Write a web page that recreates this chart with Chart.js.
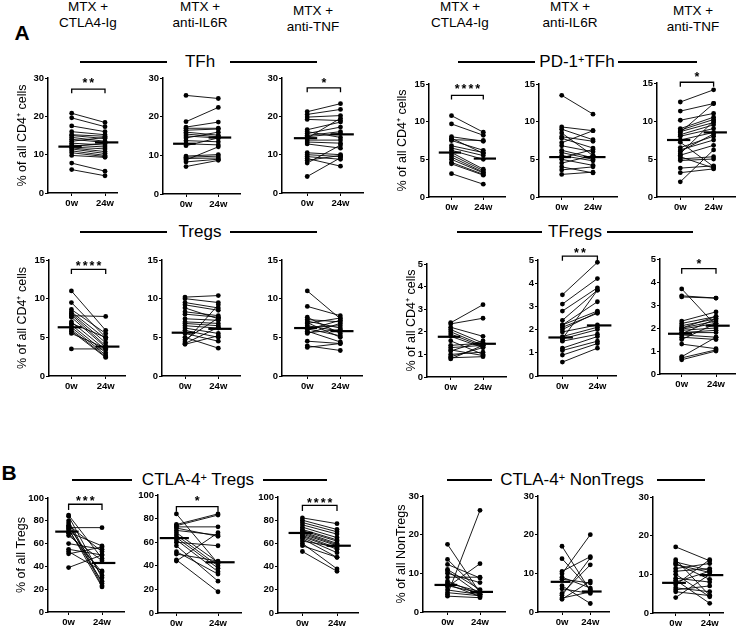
<!DOCTYPE html>
<html>
<head>
<meta charset="utf-8">
<script src="https://cdn.jsdelivr.net/npm/chart.js@4.4.1/dist/chart.umd.min.js"></script>
<style>
  body { margin: 0; background: #fff; width: 740px; height: 629px; position: relative; overflow: hidden;
         font-family: "Liberation Sans", Arial, sans-serif; color: #000; }
  .t { position: absolute; transform: translate(-50%, -50%); white-space: nowrap; text-align: center; }
  .hd { font-size: 13.5px; line-height: 16px; }
  .gt { font-size: 17px; }
  .gt sup { font-size: 11px; line-height: 0; vertical-align: 0.35em; }
  .lt { font-size: 21px; font-weight: bold; }
  .rule { position: absolute; height: 2px; background: #000; }
  canvas { position: absolute; }
</style>
</head>
<body>
<script>
// ---- labels ----
const weeks = ['0w', '24w'];
const treatments = [['MTX +', 'CTLA4-Ig'], ['MTX +', 'anti-IL6R'], ['MTX +', 'anti-TNF']];
const cd4Title = '% of all CD4\u207A cells';

// ---- TFh (% of CD4) ----
const tfhCtla0 = [20.8, 19.6, 17.5, 16.0, 15.2, 15.0, 14.5, 14.0, 13.5, 13.0, 12.5, 12.2, 12.0, 11.8, 11.5, 11.0, 10.5, 9.8, 7.8, 6.1];
const tfhCtla24 = [18.4, 17.3, 16.0, 15.2, 14.8, 14.2, 13.5, 13.2, 14.5, 12.5, 12.0, 13.0, 11.5, 10.8, 10.3, 9.8, 9.5, 9.3, 5.7, 4.5];
const tfhCtlaMed = [12.1, 13.2];
const tfhIl6r0 = [25.5, 18.7, 17.3, 17.0, 16.5, 16.0, 15.5, 15.0, 14.5, 13.8, 13.0, 12.5, 9.8, 9.5, 9.2, 8.8, 8.3, 7.1];
const tfhIl6r24 = [24.7, 22.4, 18.6, 17.0, 16.8, 15.2, 14.8, 14.5, 16.0, 13.5, 12.7, 14.5, 10.2, 9.8, 9.3, 12.2, 9.0, 8.7];
const tfhIl6rMed = [13.0, 14.6];
const tfhTnf0 = [21.2, 20.5, 19.8, 19.2, 16.5, 16.0, 15.5, 15.0, 14.7, 14.3, 13.8, 13.3, 12.8, 10.5, 10.0, 9.5, 9.0, 8.5, 7.8, 4.3];
const tfhTnf24 = [23.3, 21.8, 20.2, 18.9, 18.5, 14.5, 17.2, 16.0, 15.5, 19.5, 13.8, 13.0, 11.7, 10.0, 9.5, 8.8, 7.0, 9.8, 12.5, 9.2];
const tfhTnfMed = [14.3, 15.3];

// ---- PD-1+ TFh ----
const pd1Ctla0 = [10.8, 9.7, 8.0, 7.8, 7.6, 7.5, 6.8, 6.5, 6.2, 5.9, 5.6, 5.3, 5.0, 4.6, 4.4, 3.1];
const pd1Ctla24 = [8.6, 8.2, 7.4, 5.8, 7.5, 6.2, 5.9, 5.5, 5.0, 3.7, 3.5, 3.3, 3.2, 3.0, 2.9, 1.7];
const pd1CtlaMed = [5.9, 5.1];
const pd1Il6r0 = [13.5, 9.3, 9.0, 8.5, 8.0, 7.8, 7.2, 6.8, 6.2, 5.9, 5.5, 5.2, 5.0, 4.5, 4.0, 3.6, 3.0];
const pd1Il6r24 = [11.0, 8.8, 7.6, 5.5, 7.4, 6.5, 8.8, 6.0, 5.2, 5.0, 4.8, 6.3, 4.2, 5.5, 3.2, 4.0, 3.3];
const pd1Il6rMed = [5.3, 5.3];
const pd1Tnf0 = [12.5, 11.3, 10.1, 9.0, 8.8, 8.6, 8.2, 8.0, 7.5, 6.5, 6.2, 5.5, 5.3, 5.0, 4.8, 3.8, 3.2, 2.0, 8.5, 7.2, 6.0, 5.7];
const pd1Tnf24 = [14.1, 12.3, 11.0, 10.5, 10.2, 9.8, 9.5, 9.0, 8.5, 8.0, 7.5, 6.8, 3.8, 5.3, 5.0, 4.1, 3.7, 6.2, 12.3, 4.0, 8.3, 10.0];
const pd1TnfMed = [7.5, 8.5];

// ---- Tregs ----
const tregCtla0 = [11.0, 9.5, 8.6, 8.3, 8.1, 7.9, 7.8, 7.6, 7.0, 6.8, 6.6, 6.3, 6.0, 5.8, 5.5, 3.5];
const tregCtla24 = [5.9, 5.0, 5.5, 4.8, 4.3, 3.9, 7.7, 3.7, 3.4, 5.0, 3.0, 2.7, 2.5, 2.4, 3.6, 3.5];
const tregCtlaMed = [6.3, 3.8];
const tregIl6r0 = [10.2, 10.0, 9.5, 9.2, 8.8, 8.3, 8.0, 7.4, 7.0, 6.8, 6.5, 6.2, 5.9, 5.5, 5.0, 4.7, 4.4, 4.1, 4.2];
const tregIl6r24 = [10.4, 9.5, 8.8, 8.5, 7.4, 7.8, 7.6, 7.2, 6.8, 6.5, 6.2, 5.5, 5.0, 4.5, 3.6, 7.5, 9.2, 5.2, 6.3];
const tregIl6rMed = [5.6, 6.1];
const tregTnf0 = [11.0, 9.0, 7.6, 7.3, 7.1, 6.8, 6.5, 6.3, 6.1, 5.8, 5.5, 4.5, 3.9, 3.7, 6.9, 6.0, 5.6];
const tregTnf24 = [7.4, 7.8, 5.5, 7.0, 6.2, 7.5, 5.8, 6.5, 5.2, 4.4, 6.8, 4.2, 3.3, 4.2, 5.0, 7.2, 6.0];
const tregTnfMed = [6.2, 5.8];

// ---- TFregs ----
const tfrCtla0 = [2.4, 2.35, 2.2, 2.1, 2.0, 1.9, 1.8, 1.6, 1.4, 1.3, 1.2, 1.15, 1.0, 0.9, 0.85, 0.8];
const tfrCtla24 = [3.2, 2.6, 1.8, 1.5, 1.4, 1.35, 1.3, 1.0, 1.5, 1.4, 0.95, 1.6, 1.1, 1.3, 0.9, 1.4];
const tfrCtlaMed = [1.78, 1.47];
const tfrIl6r0 = [3.5, 3.1, 2.8, 2.4, 2.2, 2.2, 2.0, 1.9, 1.7, 1.6, 1.5, 1.2, 1.1, 0.9, 0.6, 1.6, 2.1];
const tfrIl6r24 = [4.9, 4.2, 3.8, 3.7, 3.2, 2.8, 2.75, 2.2, 2.1, 2.0, 1.8, 1.7, 1.5, 1.4, 1.2, 3.7, 2.7];
const tfrIl6rMed = [1.66, 2.18];
const tfrTnf0 = [3.7, 3.4, 3.35, 2.3, 2.2, 2.1, 2.0, 1.95, 1.9, 1.8, 1.75, 1.7, 1.6, 1.5, 1.3, 0.75, 0.7, 0.62, 2.0, 1.8];
const tfrTnf24 = [2.1, 3.3, 3.3, 2.7, 2.5, 2.4, 2.3, 2.2, 2.0, 1.8, 2.4, 1.6, 1.5, 2.2, 1.1, 1.6, 1.05, 1.0, 2.5, 1.9];
const tfrTnfMed = [1.75, 2.1];

// ---- CTLA-4+ Tregs (% of Tregs) ----
const ctTregCtla0 = [85, 84, 80, 78, 76, 75, 73, 72, 70, 69, 67, 60, 55, 53, 51, 39, 74];
const ctTregCtla24 = [47, 30, 25, 23, 53, 32, 22, 27, 58, 35, 45, 55, 50, 36, 57, 50, 74];
const ctTregCtlaMed = [70.5, 43];
const ctTregIl6r0 = [84, 75, 74, 73, 70, 68, 66, 64, 62, 60, 57, 52, 50, 45, 44, 72];
const ctTregIl6r24 = [42, 84, 83, 73, 66, 43, 40, 38, 35, 57, 27, 33, 44, 18, 68, 65];
const ctTregIl6rMed = [63.5, 43];
const ctTregTnf0 = [82, 80, 78, 76, 74, 72, 71, 70, 69, 68, 67, 66, 65, 64, 62, 60, 58, 53];
const ctTregTnf24 = [77, 72, 70, 68, 65, 63, 62, 60, 59, 58, 56, 55, 52, 48, 57, 38, 48, 36];
const ctTregTnfMed = [69, 58];

// ---- CTLA-4+ NonTregs (% of NonTregs) ----
const ctNonCtla0 = [17.5, 13.6, 12.3, 10.6, 10.0, 9.0, 8.0, 7.5, 7.2, 6.5, 5.7, 5.0, 4.1, 6.8, 4.5, 11.0];
const ctNonCtla24 = [5.0, 5.3, 8.8, 4.6, 7.6, 9.0, 4.5, 5.3, 4.0, 12.5, 4.5, 4.2, 3.7, 5.0, 26.3, 5.8];
const ctNonCtlaMed = [7.0, 5.2];
const ctNonIl6r0 = [17.0, 13.8, 10.5, 9.9, 9.0, 8.5, 6.8, 6.0, 4.8, 4.3, 3.6, 3.3];
const ctNonIl6r24 = [5.5, 5.8, 14.3, 20.0, 6.2, 7.5, 2.2, 4.8, 12.2, 14.0, 5.2, 8.0];
const ctNonIl6rMed = [7.8, 5.3];
const ctNonTnf0 = [17.1, 13.8, 13.2, 12.5, 11.5, 10.8, 10.0, 9.0, 8.0, 7.3, 6.5, 6.0, 5.5, 4.0, 8.5, 12.8];
const ctNonTnf24 = [13.5, 4.5, 11.0, 10.5, 12.8, 11.5, 4.2, 8.0, 10.8, 13.8, 5.5, 7.0, 4.5, 10.0, 2.5, 8.7];
const ctNonTnfMed = [7.8, 9.8];

// panel placement: ax = y-axis x, yT/yB = pixel of max/0, x0/x1 = 0w/24w, xE = end of x axis
const panels = [
  { pre: tfhCtla0, post: tfhCtla24, med: tfhCtlaMed, yMax: 30, step: 10, ax: 48, yT: 78, yB: 193, x0: 71.7, x1: 105, xE: 117,
    yTitle: cd4Title, titleX: 23, sig: { y: 27.1, drop: 1.1, text: '**', ty: 29.4 } },
  { pre: tfhIl6r0, post: tfhIl6r24, med: tfhIl6rMed, yMax: 30, step: 10, ax: 163, yT: 78, yB: 194, x0: 186, x1: 218.3, xE: 240 },
  { pre: tfhTnf0, post: tfhTnf24, med: tfhTnfMed, yMax: 30, step: 10, ax: 281.5, yT: 78, yB: 193, x0: 306.7, x1: 340, xE: 362,
    sig: { y: 27.4, drop: 1.1, text: '*', ty: 29.5 } },
  { pre: pd1Ctla0, post: pd1Ctla24, med: pd1CtlaMed, yMax: 15, step: 5, ax: 429, yT: 84, yB: 197, x0: 451.5, x1: 483.3, xE: 505,
    yTitle: cd4Title, titleX: 403, sig: { y: 13.5, drop: 0.55, text: '****', ty: 14.7 } },
  { pre: pd1Il6r0, post: pd1Il6r24, med: pd1Il6rMed, yMax: 15, step: 5, ax: 539, yT: 84, yB: 197, x0: 561.7, x1: 593, xE: 617 },
  { pre: pd1Tnf0, post: pd1Tnf24, med: pd1TnfMed, yMax: 15, step: 5, ax: 656.7, yT: 83, yB: 197, x0: 680, x1: 713.3, xE: 735,
    sig: { y: 15.1, drop: 0.6, text: '*', ty: 16.2 } },
  { pre: tregCtla0, post: tregCtla24, med: tregCtlaMed, yMax: 15, step: 5, ax: 49.3, yT: 260, yB: 376, x0: 71.7, x1: 106, xE: 125,
    yTitle: cd4Title, titleX: 23, sig: { y: 13.8, drop: 0.6, text: '****', ty: 14.65 } },
  { pre: tregIl6r0, post: tregIl6r24, med: tregIl6rMed, yMax: 15, step: 5, ax: 162, yT: 260, yB: 376, x0: 185, x1: 218.3, xE: 240 },
  { pre: tregTnf0, post: tregTnf24, med: tregTnfMed, yMax: 15, step: 5, ax: 281.7, yT: 260, yB: 376, x0: 307, x1: 340, xE: 361.7 },
  { pre: tfrCtla0, post: tfrCtla24, med: tfrCtlaMed, yMax: 5, step: 1, ax: 427.3, yT: 264, yB: 377, x0: 451, x1: 483.3, xE: 506.7,
    yTitle: cd4Title, titleX: 411.7 },
  { pre: tfrIl6r0, post: tfrIl6r24, med: tfrIl6rMed, yMax: 5, step: 1, ax: 538.3, yT: 260, yB: 376, x0: 562.7, x1: 597.7, xE: 616.7,
    sig: { y: 5.17, drop: 0.2, text: '**', ty: 5.43 } },
  { pre: tfrTnf0, post: tfrTnf24, med: tfrTnfMed, yMax: 5, step: 1, ax: 660, yT: 259, yB: 374, x0: 681.7, x1: 716, xE: 735,
    sig: { y: 4.58, drop: 0.22, text: '*', ty: 4.9 } },
  { pre: ctTregCtla0, post: ctTregCtla24, med: ctTregCtlaMed, yMax: 100, step: 20, ax: 47.7, yT: 498, yB: 612, x0: 68.3, x1: 101.7, xE: 123.3,
    yTitle: '% of all Tregs', titleX: 21.7, sig: { y: 94.5, drop: 5, text: '***', ty: 100.4 } },
  { pre: ctTregIl6r0, post: ctTregIl6r24, med: ctTregIl6rMed, yMax: 100, step: 20, ax: 158.3, yT: 495, yB: 613, x0: 176.7, x1: 218.3, xE: 241.7,
    sig: { y: 90.1, drop: 4.2, text: '*', ty: 97.2 } },
  { pre: ctTregTnf0, post: ctTregTnf24, med: ctTregTnfMed, yMax: 100, step: 20, ax: 278.3, yT: 497, yB: 613, x0: 302.7, x1: 337.3, xE: 358.3,
    sig: { y: 92.8, drop: 4.9, text: '****', ty: 97.7 } },
  { pre: ctNonCtla0, post: ctNonCtla24, med: ctNonCtlaMed, yMax: 30, step: 10, ax: 423, yT: 496, yB: 612, x0: 447.5, x1: 480, xE: 505,
    yTitle: '% of all NonTregs', titleX: 402 },
  { pre: ctNonIl6r0, post: ctNonIl6r24, med: ctNonIl6rMed, yMax: 30, step: 10, ax: 537.7, yT: 496, yB: 612, x0: 561.7, x1: 590, xE: 608.3 },
  { pre: ctNonTnf0, post: ctNonTnf24, med: ctNonTnfMed, yMax: 30, step: 10, ax: 653.3, yT: 497, yB: 613, x0: 676, x1: 710, xE: 723.3 }
];

// ---- html text (headers, group titles) ----
function addText(html, x, y, cls) {
  const d = document.createElement('div');
  d.className = 't ' + cls;
  d.style.left = x + 'px';
  d.style.top = y + 'px';
  d.innerHTML = html;
  document.body.appendChild(d);
}
function addRule(x1, x2, y) {
  const d = document.createElement('div');
  d.className = 'rule';
  d.style.left = x1 + 'px';
  d.style.top = (y - 1) + 'px';
  d.style.width = (x2 - x1) + 'px';
  document.body.appendChild(d);
}

[[88, 15], [200, 15], [313, 19], [460, 15], [570, 15], [693, 19]].forEach(([x, y], i) => {
  addText(treatments[i % 3].join('<br>'), x, y, 'hd');
});
addText('A', 22, 33, 'lt');
addText('B', 9, 473, 'lt');

const groups = [
  { text: 'TFh', x: 200, y: 62, rules: [[80, 167], [230, 317]] },
  { text: 'PD-1<sup>+</sup>TFh', x: 577, y: 62, rules: [[458, 535], [618, 697]] },
  { text: 'Tregs', x: 200, y: 232, rules: [[80, 167], [230, 317]] },
  { text: 'TFregs', x: 575, y: 232, rules: [[457, 542], [607, 693]] },
  { text: 'CTLA-4<sup>+</sup> Tregs', x: 198, y: 480, rules: [[72, 132], [263, 327]] },
  { text: 'CTLA-4<sup>+</sup> NonTregs', x: 572, y: 480, rules: [[447, 492], [657, 705]] }
];
groups.forEach(g => {
  addText(g.text, g.x, g.y, 'gt');
  g.rules.forEach(r => addRule(r[0], r[1], g.y));
});

// ---- charts ----
const FONT = '"Liberation Sans", Arial, sans-serif';

// significance stars above the bracket
const starPlugin = {
  id: 'stars',
  afterDatasetsDraw(chart, args, opts) {
    const s = opts.sig;
    if (!s) return;
    const { ctx, scales: { x, y } } = chart;
    ctx.save();
    ctx.font = 'bold 12.5px ' + FONT;
    ctx.letterSpacing = '2px';
    ctx.textAlign = 'center';
    ctx.textBaseline = 'alphabetic';
    ctx.fillStyle = '#000';
    ctx.fillText(s.text, x.getPixelForValue(0.5) + 1, y.getPixelForValue(s.ty) + 7);
    ctx.restore();
  }
};

function pairPoints(pre, post) {
  const pts = [];
  pre.forEach((v, i) => {
    pts.push({ x: 0, y: v }, { x: 1, y: post[i] }, { x: 0.5, y: null });
  });
  return pts;
}

function makePanel(p) {
  const W = 44, PT = 28, PR = 6, HB = 22;
  const ax = Math.round(p.ax), yT = Math.round(p.yT), yB = Math.round(p.yB);
  const plotW = Math.round(p.xE - p.ax);
  const canvas = document.createElement('canvas');
  canvas.width = W + plotW + PR;
  canvas.height = PT + (yB - yT) + HB;
  canvas.style.left = (ax - W) + 'px';
  canvas.style.top = (yT - PT) + 'px';
  document.body.appendChild(canvas);

  const unit = p.x1 - p.x0;
  const xMin = -(p.x0 - p.ax) / unit;
  const xMax = xMin + plotW / unit;

  const datasets = [
    { data: pairPoints(p.pre, p.post), borderColor: '#000', borderWidth: 0.9, pointRadius: 2.4,
      pointBackgroundColor: '#000', pointBorderWidth: 0, spanGaps: false },
    { data: [{ x: -0.4, y: p.med[0] }, { x: 0.3, y: p.med[0] }], borderColor: '#000', borderWidth: 2.2, pointRadius: 0, clip: false },
    { data: [{ x: 0.7, y: p.med[1] }, { x: 1.4, y: p.med[1] }], borderColor: '#000', borderWidth: 2.2, pointRadius: 0, clip: false }
  ];
  if (p.sig) {
    const s = p.sig;
    datasets.push({ data: [{ x: 0, y: s.y - s.drop }, { x: 0, y: s.y }, { x: 1, y: s.y }, { x: 1, y: s.y - s.drop }],
      borderColor: '#000', borderWidth: 1.3, pointRadius: 0, clip: false });
  }

  const tickFont = { family: FONT, size: 9.5, weight: 'bold' };
  new Chart(canvas, {
    type: 'line',
    data: { datasets },
    options: {
      responsive: false,
      animation: false,
      events: [],
      layout: { padding: { top: PT, right: PR, left: 0, bottom: 0 } },
      plugins: { legend: { display: false }, tooltip: { enabled: false }, stars: { sig: p.sig } },
      scales: {
        x: {
          type: 'linear', min: xMin, max: xMax,
          afterBuildTicks: s => { s.ticks = [{ value: 0 }, { value: 1 }]; },
          afterFit: s => { s.height = HB; },
          ticks: { callback: v => weeks[v], color: '#000', font: tickFont, padding: 2, maxRotation: 0, autoSkip: false },
          grid: { drawOnChartArea: false, tickLength: 3, color: '#000', lineWidth: 1 },
          border: { color: '#000', width: 1.5 }
        },
        y: {
          min: 0, max: p.yMax,
          afterFit: s => { s.width = W; },
          ticks: { stepSize: p.step, color: '#000', font: tickFont, padding: 1 },
          grid: { drawOnChartArea: false, tickLength: 3, color: '#000', lineWidth: 1 },
          border: { color: '#000', width: 1.5 },
          title: {
            display: !!p.yTitle, text: p.yTitle || '', color: '#000',
            font: { family: FONT, size: 12.5 },
            padding: { top: p.yTitle ? p.titleX - (ax - W) - 7.5 : 0, bottom: 0 }
          }
        }
      }
    },
    plugins: [starPlugin]
  });
}

panels.forEach(makePanel);
</script>
</body>
</html>
